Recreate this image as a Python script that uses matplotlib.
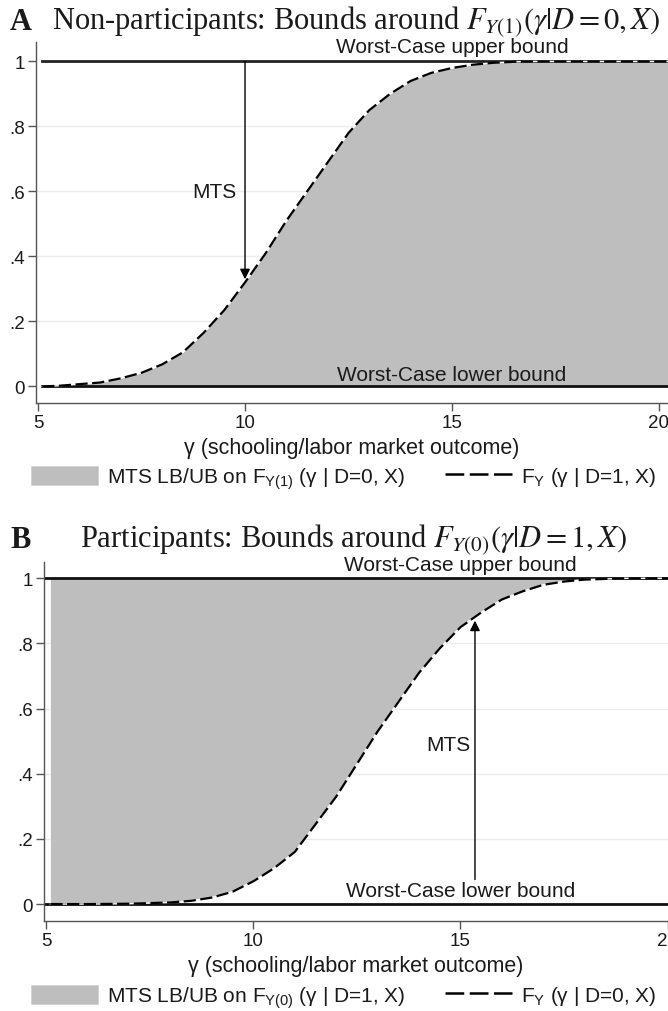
import matplotlib
matplotlib.use("Agg")
import matplotlib.pyplot as plt
from matplotlib.patches import Patch
from matplotlib.lines import Line2D

plt.rcParams['font.family'] = ['Liberation Sans', 'DejaVu Sans']
plt.rcParams['mathtext.fontset'] = 'custom'
plt.rcParams['mathtext.rm'] = 'Liberation Sans'
plt.rcParams['mathtext.it'] = 'Liberation Sans:italic'

# ---------------- values read for each panel ----------------
# panel A : F_Y(gamma | D=1, X), upper MTS bound for the non-participants
gam_a = [5.1, 5.5, 6.0, 6.5, 7.0, 7.5, 8.0, 8.5, 9.0, 9.5, 10.0, 10.5, 11.0, 11.5,
         12.0, 12.5, 13.0, 13.5, 14.0, 14.5, 15.0, 15.5, 16.0, 16.5, 17.0, 18.0, 19.0, 20.3]
cdf_a = [0.0, 0.002, 0.007, 0.012, 0.025, 0.042, 0.068, 0.105, 0.165, 0.235, 0.32, 0.41,
         0.51, 0.60, 0.69, 0.78, 0.85, 0.90, 0.94, 0.965, 0.98, 0.99, 0.996, 0.999, 1.0, 1.0, 1.0, 1.0]

# panel B : F_Y(gamma | D=0, X), lower MTS bound for the participants
gam_b = [5.1, 6.0, 7.0, 7.5, 8.0, 8.5, 9.0, 9.5, 10.0, 10.5, 11.0, 11.5, 12.0, 12.5,
         13.0, 13.5, 14.0, 14.5, 15.0, 15.5, 16.0, 16.5, 17.0, 17.5, 18.0, 19.0, 20.1]
cdf_b = [0.0, 0.0, 0.001, 0.003, 0.005, 0.01, 0.02, 0.038, 0.07, 0.11, 0.16, 0.245, 0.33,
         0.43, 0.53, 0.62, 0.71, 0.785, 0.85, 0.895, 0.935, 0.96, 0.98, 0.99, 0.996, 1.0, 1.0]

xticks = [5, 10, 15, 20]
yticks = [0, 0.2, 0.4, 0.6, 0.8, 1.0]
ytick_labels = ['0', '.2', '.4', '.6', '.8', '1']

titles = [r'Non-participants: Bounds around $F_{Y(1)}(\gamma|D=0,X)$',
          r'Participants: Bounds around $F_{Y(0)}(\gamma|D=1,X)$']
letters = ['A', 'B']
fill_labels = [r'MTS LB/UB on F$_{\mathrm{Y(1)}}$ (γ | D=0, X)',
               r'MTS LB/UB on F$_{\mathrm{Y(0)}}$ (γ | D=1, X)']
line_labels = [r'F$_{\mathrm{Y}}$ (γ | D=1, X)', r'F$_{\mathrm{Y}}$ (γ | D=0, X)']

arrow_a = (10.0, 1.0, 0.33)     # x, start, tip
arrow_b = (15.35, 0.075, 0.87)

FILL = '#bebebe'
INK = '#1a1a1a'
TXT = 15

fig = plt.figure(figsize=(6.68, 10.12), dpi=100)
axA = fig.add_axes([36 / 668, 1 - 404 / 1012, 632 / 668, 361 / 1012])
axB = fig.add_axes([44 / 668, 1 - 922 / 1012, 624 / 668, 359 / 1012])


def habillage(ax, xmin, xmax, ymin, ymax):
    ax.set_xlim(xmin, xmax)
    ax.set_ylim(ymin, ymax)
    for s in ['top', 'right']:
        ax.spines[s].set_visible(False)
    for s in ['left', 'bottom']:
        ax.spines[s].set_color('#555555')
        ax.spines[s].set_linewidth(1.0)
    ax.set_xticks(xticks)
    ax.set_yticks(yticks)
    ax.set_yticklabels(ytick_labels)
    ax.tick_params(direction='out', length=6, width=1, color='#555555',
                   labelsize=13.5, labelcolor=INK, pad=2)
    for v in yticks[1:-1]:
        ax.axhline(v, color='#ececec', lw=1, zorder=0)
    ax.set_xlabel('γ (schooling/labor market outcome)', fontsize=15.5, color=INK, labelpad=4)


# -------------- panel A ----------------
habillage(axA, 4.95, 20.22, -0.051, 1.06)
axA.fill_between(gam_a, 0, cdf_a, color=FILL, lw=0, zorder=1)
axA.plot([5.1, 20.3], [1, 1], color='#222222', lw=2, zorder=2)
axA.plot([5.1, 20.3], [0, 0], color='#111111', lw=2, zorder=2)
axA.plot(gam_a, cdf_a, color='white', lw=1.0, zorder=3)
axA.plot(gam_a, cdf_a, color='black', lw=1.6, dashes=(5.5, 2), zorder=4)
axA.annotate('', xy=(arrow_a[0], arrow_a[2]), xytext=(arrow_a[0], arrow_a[1]),
             arrowprops=dict(arrowstyle='-|>', color='black', lw=1, mutation_scale=15,
                             shrinkA=0, shrinkB=0), zorder=5)
axA.text(9.27, 0.6, 'MTS', ha='center', va='center', fontsize=TXT, color=INK)
axA.text(15.0, 1.047, 'Worst-Case upper bound', ha='center', va='center', fontsize=TXT, color=INK)
axA.text(15.0, 0.036, 'Worst-Case lower bound', ha='center', va='center', fontsize=TXT, color=INK)

# -------------- panel B ----------------
habillage(axB, 4.945, 20.01, -0.052, 1.05)
axB.fill_between(gam_b, cdf_b, 1, color=FILL, lw=0, zorder=1)
axB.axhline(1, color='#111111', lw=2, zorder=2)
axB.axhline(0, color='#111111', lw=2, zorder=2)
axB.plot(gam_b, cdf_b, color='white', lw=1.0, zorder=3)
axB.plot(gam_b, cdf_b, color='black', lw=1.6, dashes=(5.5, 2), zorder=4)
axB.annotate('', xy=(arrow_b[0], arrow_b[2]), xytext=(arrow_b[0], arrow_b[1]),
             arrowprops=dict(arrowstyle='-|>', color='black', lw=1, mutation_scale=15,
                             shrinkA=0, shrinkB=0), zorder=5)
axB.text(14.7, 0.49, 'MTS', ha='center', va='center', fontsize=TXT, color=INK)
axB.text(15.0, 1.042, 'Worst-Case upper bound', ha='center', va='center', fontsize=TXT, color=INK)
axB.text(15.0, 0.042, 'Worst-Case lower bound', ha='center', va='center', fontsize=TXT, color=INK)

# -------------- titres et legendes ----------------
for ax, lettre, titre, yt, xt, lf, ll, yl in [
        (axA, letters[0], titles[0], 1 - 22 / 1012, 52, fill_labels[0], line_labels[0], 1 - 479 / 1012),
        (axB, letters[1], titles[1], 1 - 540 / 1012, 80, fill_labels[1], line_labels[1], 1 - 998 / 1012)]:
    fig.text(10 / 668, yt, lettre, fontsize=22, fontweight='bold', family='Liberation Serif',
             va='center', ha='left', color=INK)
    fig.text(xt / 668, yt, titre, fontsize=22, family='Liberation Serif', math_fontfamily='stix',
             va='center', ha='left', color=INK)
    handles = [Patch(facecolor=FILL, edgecolor='#d0d0d0', lw=0.5),
               Line2D([], [], color='black', lw=1.8, dashes=(7.5, 2.2))]
    fig.legend(handles, [lf, ll], loc='center', bbox_to_anchor=(344 / 668, yl), ncol=2,
               frameon=False, fontsize=TXT, handlelength=3.2, handleheight=1.0,
               handletextpad=0.45, columnspacing=1.9, labelcolor=INK)

plt.savefig('out.png', dpi=100)
